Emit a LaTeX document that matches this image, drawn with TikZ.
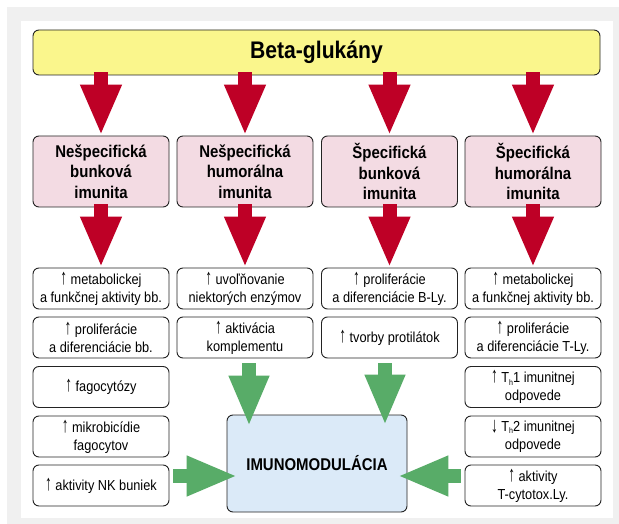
\documentclass[tikz,border=0pt]{standalone}
\usepackage{fontspec}
\usepackage{graphicx}
\setmainfont{Liberation Sans}[FakeStretch=0.88]
\usetikzlibrary{arrows.meta,calc}
\definecolor{bgGray}{RGB}{240,240,240}
\definecolor{yel}{RGB}{250,246,140}
\definecolor{pnk}{RGB}{243,219,227}
\definecolor{blu}{RGB}{219,234,248}
\definecolor{redA}{RGB}{190,0,38}
\definecolor{grnA}{RGB}{88,172,104}
\definecolor{edge}{RGB}{35,35,35}
\newcommand{\Th}{T\raisebox{-2.5pt}{\fontsize{8}{8}\selectfont h}}
\newcommand{\upA}{\scalebox{1.05}[1.5]{↑}}
\newcommand{\dnA}{\raisebox{-1.4pt}{\scalebox{1.05}[1.5]{↓}}}
\begin{document}
\begin{tikzpicture}[x=1pt,y=-1pt,
  box/.style={draw=edge, line width=0.9pt, rounded corners=6pt, align=center, inner sep=0pt},
  headbox/.style={box, fill=pnk, minimum width=136pt, minimum height=71pt, font=\bfseries\fontsize{17}{20.5}\selectfont},
  itembox/.style={box, fill=white, minimum width=136pt, minimum height=41pt, font=\fontsize{14.5}{18}\selectfont},
  redarrow/.style={draw=redA, line width=14pt, -{Triangle[width=38pt,length=51pt]}, redA},
  grnarrow/.style={draw=grnA, line width=14pt, -{Triangle[width=37pt,length=51pt]}, grnA}]
\useasboundingbox (0,0) rectangle (619,524);
\fill[white] (0,0) rectangle (619,524);
\fill[bgGray] (7,7) rectangle (619,524);
\fill[white] (21,21) rectangle (613,518);

\node[box, fill=yel, minimum width=567pt, minimum height=45pt, font=\bfseries\fontsize{24}{28}\selectfont] (beta) at (316.5,52.5) {Beta-glukány};

\node[headbox] (h1) at (101,171.5) {Nešpecifická\\bunková\\imunita};
\node[headbox] (h2) at (245,171.5) {Nešpecifická\\humorálna\\imunita};
\node[headbox] (h3) at (389.5,171.5) {Špecifická\\bunková\\imunita};
\node[headbox] (h4) at (533,171.5) {Špecifická\\humorálna\\imunita};

\node[itembox] (r11) at (101,288.5) {\upA{} metabolickej\\a funkčnej aktivity bb.};
\node[itembox] (r12) at (101,337.5) {\upA{} proliferácie\\a diferenciácie bb.};
\node[itembox] (r13) at (101,387) {\upA{} fagocytózy};
\node[itembox] (r14) at (101,436.5) {\upA{} mikrobicídie\\fagocytov};
\node[itembox] (r15) at (101,485.5) {\upA{} aktivity NK buniek};

\node[itembox] (r21) at (245,288.5) {\upA{} uvoľňovanie\\niektorých enzýmov};
\node[itembox] (r22) at (245,337.5) {\upA{} aktivácia\\komplementu};

\node[itembox] (r31) at (389.5,288.5) {\upA{} proliferácie\\a diferenciácie B-Ly.};
\node[itembox] (r32) at (389.5,337.5) {\upA{} tvorby protilátok};

\node[itembox] (r41) at (533,288.5) {\upA{} metabolickej\\a funkčnej aktivity bb.};
\node[itembox] (r42) at (533,337.5) {\upA{} proliferácie\\a diferenciácie T-Ly.};
\node[itembox] (r43) at (533,387) {\upA{} \Th1 imunitnej\\odpovede};
\node[itembox] (r44) at (533,436.5) {\dnA{} \Th2 imunitnej\\odpovede};
\node[itembox] (r45) at (533,485.5) {\upA{} aktivity\\T-cytotox.Ly.};

\node[box, fill=blu, minimum width=180pt, minimum height=97pt, font=\bfseries\fontsize{17}{20}\selectfont] (imu) at (317,463.5) {IMUNOMODULÁCIA};

% red arrows
\foreach \h in {h1,h2,h3,h4}{
  \draw[redarrow] ($(beta.south -| \h.north)+(0,-3)$) -- (\h.north);
}
\draw[redarrow] ($(h1.south)+(0,-3)$) -- (r11.north);
\draw[redarrow] ($(h2.south)+(0,-3)$) -- (r21.north);
\draw[redarrow] ($(h3.south)+(0,-3)$) -- (r31.north);
\draw[redarrow] ($(h4.south)+(0,-3)$) -- (r41.north);

% green arrows
\draw[grnarrow] ($(r22.south)+(4,5)$) -- ($(imu.north -| r22.south)+(4,12)$);
\draw[grnarrow] ($(r32.south)+(-4.5,5)$) -- ($(imu.north -| r32.south)+(-4.5,11)$);
\draw[grnarrow] ($(r15.east)+(4,-9.5)$) -- ($(imu.west)+(11,12.5)$);
\draw[grnarrow] ($(r45.west)+(-4,-9.5)$) -- ($(imu.east)+(-10,12.5)$);
\end{tikzpicture}
\end{document}
